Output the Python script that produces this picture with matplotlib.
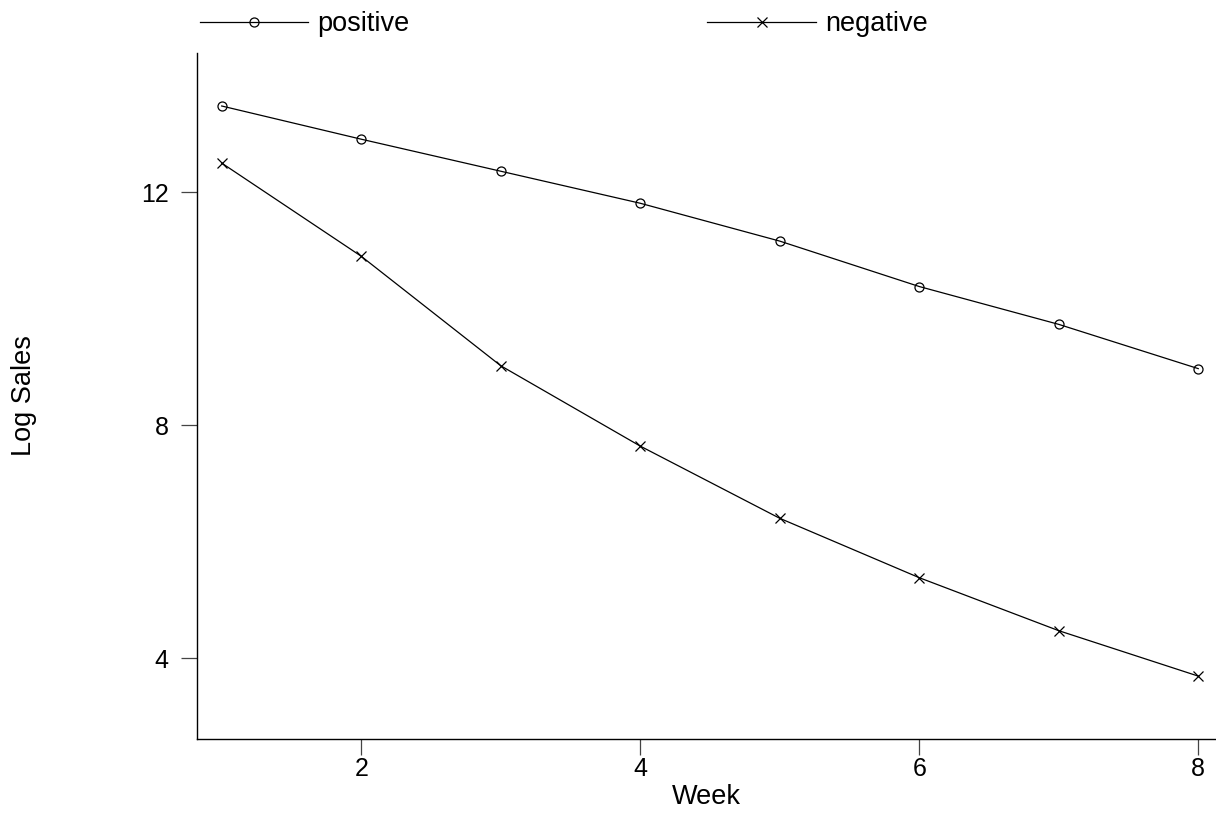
import matplotlib
matplotlib.use("Agg")
import matplotlib.pyplot as plt

weeks = [1, 2, 3, 4, 5, 6, 7, 8]
positive = [13.48, 12.91, 12.36, 11.81, 11.16, 10.38, 9.73, 8.97]
negative = [12.50, 10.90, 9.02, 7.64, 6.40, 5.38, 4.47, 3.69]
xticks = [2, 4, 6, 8]
yticks = [4, 8, 12]

plt.rcParams['font.family'] = ['Liberation Sans', 'DejaVu Sans']
fig = plt.figure(figsize=(12.16, 8.13), dpi=100)
ax = fig.add_axes([197/1216, 1 - 739/813, (1215 - 197)/1216, (739 - 53)/813])

ax.plot(weeks, positive, color='black', lw=0.9, marker='o', ms=6.5,
        mfc='none', mec='black', mew=0.9, label='positive')
ax.plot(weeks, negative, color='black', lw=0.9, marker='x', ms=6.5,
        mec='black', mew=0.9, label='negative')

ax.set_xlim(0.823, 8.12)
ax.set_ylim(2.61, 14.39)
ax.set_xticks(xticks)
ax.set_yticks(yticks)
for s in ['top', 'right']:
    ax.spines[s].set_visible(False)
for s in ['left', 'bottom']:
    ax.spines[s].set_linewidth(1.0)
ax.tick_params(axis='both', direction='out', length=11.5, width=0.9,
               labelsize=18, color='#444444')
ax.tick_params(axis='y', pad=9)
ax.tick_params(axis='x', pad=1.5)
ax.set_xlabel('Week', fontsize=19.5)
ax.xaxis.set_label_coords(0.5, -0.066)
ax.set_ylabel('Log Sales', fontsize=19.5)
ax.yaxis.set_label_coords(-0.157, 0.5)

fig.legend(loc='upper left', bbox_to_anchor=(200/1216, 1 - 11/813), ncol=2,
           frameon=False, fontsize=19.5, handlelength=4.0, handletextpad=0.33,
           columnspacing=11.0, borderpad=0, borderaxespad=0)

fig.savefig('out.png', dpi=100)
